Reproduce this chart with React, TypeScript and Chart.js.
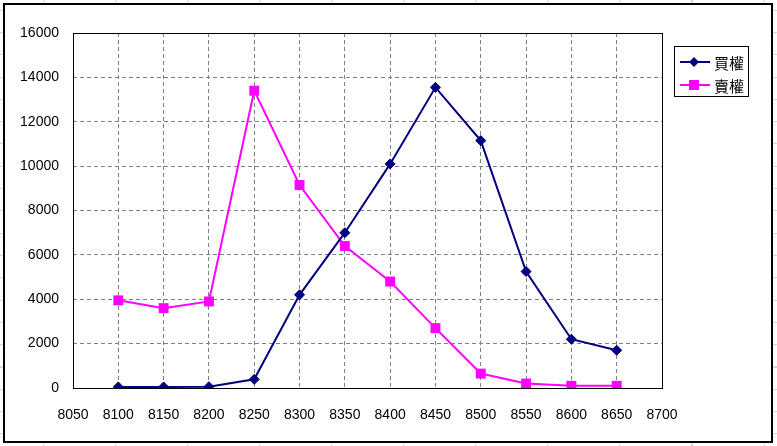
import React, { useEffect, useRef } from "react";
import { Chart, registerables } from "chart.js";

Chart.register(...registerables);

const strikes = [8100, 8150, 8200, 8250, 8300, 8350, 8400, 8450, 8500, 8550, 8600, 8650];
const callLabel = "買權";
const putLabel = "賣權";
const callValues = [50, 50, 60, 390, 4200, 7000, 10100, 13550, 11150, 5250, 2200, 1700];
const putValues = [3950, 3600, 3900, 13400, 9150, 6400, 4800, 2700, 650, 200, 100, 100];
const xMin = 8050;
const xMax = 8700;
const xStep = 50;
const yMin = 0;
const yMax = 16000;
const yStep = 2000;

const frameAndLegend = {
  id: "frameAndLegend",
  beforeDatasetsDraw(chart: any) {
    const { ctx, chartArea } = chart;
    ctx.save();
    ctx.strokeStyle = "#000";
    ctx.lineWidth = 1;
    ctx.strokeRect(
      Math.round(chartArea.left) + 0.5,
      Math.round(chartArea.top) + 0.5,
      Math.round(chartArea.right - chartArea.left),
      Math.round(chartArea.bottom - chartArea.top)
    );
    ctx.restore();
  },
  afterDraw(chart: any) {
    const { ctx } = chart;
    const bx = 674.5, by = 46.5, bw = 74, bh = 50;
    ctx.save();
    ctx.fillStyle = "#fff";
    ctx.fillRect(bx, by, bw, bh);
    ctx.strokeStyle = "#000";
    ctx.lineWidth = 1;
    ctx.strokeRect(bx, by, bw, bh);
    const rows = [62, 85];
    chart.data.datasets.forEach((ds: any, i: number) => {
      const y = rows[i];
      ctx.strokeStyle = ds.borderColor;
      ctx.lineWidth = 2;
      ctx.beginPath();
      ctx.moveTo(680, y);
      ctx.lineTo(710, y);
      ctx.stroke();
      ctx.fillStyle = ds.pointBackgroundColor;
      if (ds.pointStyle === "rectRot") {
        ctx.beginPath();
        ctx.moveTo(694, y - 5);
        ctx.lineTo(699, y);
        ctx.lineTo(694, y + 5);
        ctx.lineTo(689, y);
        ctx.closePath();
        ctx.fill();
      } else {
        ctx.fillRect(689, y - 5, 10, 10);
      }
      ctx.fillStyle = "#000";
      ctx.font = '15px "Noto Sans CJK TC", "Noto Sans CJK SC", sans-serif';
      ctx.textBaseline = "middle";
      ctx.textAlign = "left";
      ctx.fillText(ds.label, 714, y + 1);
    });
    ctx.restore();
  },
};

export default function App() {
  const ref = useRef<HTMLCanvasElement | null>(null);
  useEffect(() => {
    if (!ref.current) return;
    const tickFont = { family: '"Liberation Sans", Arial, sans-serif', size: 14 };
    const chart = new Chart(ref.current, {
      type: "line",
      data: {
        datasets: [
          {
            label: callLabel,
            data: strikes.map((s, i) => ({ x: s, y: callValues[i] })),
            borderColor: "#000080",
            backgroundColor: "#000080",
            pointBackgroundColor: "#000080",
            pointBorderColor: "#000080",
            pointStyle: "rectRot",
            pointRadius: 5,
            pointBorderWidth: 1,
            borderWidth: 2,
            tension: 0,
          },
          {
            label: putLabel,
            data: strikes.map((s, i) => ({ x: s, y: putValues[i] })),
            borderColor: "#FF00FF",
            backgroundColor: "#FF00FF",
            pointBackgroundColor: "#FF00FF",
            pointBorderColor: "#FF00FF",
            pointStyle: "rect",
            pointRadius: 7,
            pointBorderWidth: 0,
            borderWidth: 2,
            tension: 0,
          },
        ],
      },
      options: {
        animation: false,
        responsive: false,
        maintainAspectRatio: false,
        layout: { padding: { top: 33, right: 115, left: 0, bottom: 0 } },
        plugins: {
          legend: { display: false },
          tooltip: { enabled: false },
        },
        scales: {
          x: {
            type: "linear",
            min: xMin,
            max: xMax,
            ticks: {
              stepSize: xStep,
              color: "#000",
              font: tickFont,
              padding: 19,
              maxRotation: 0,
              autoSkip: false,
              callback: (v: any) => String(v),
            },
            grid: { color: "#808080", lineWidth: 1, drawTicks: false },
            border: { display: false, dash: [4, 3] },
            afterFit: (s: any) => {
              s.height = 58;
            },
          },
          y: {
            type: "linear",
            min: yMin,
            max: yMax,
            ticks: {
              stepSize: yStep,
              color: "#000",
              font: tickFont,
              padding: 14,
              callback: (v: any) => String(v),
            },
            grid: { color: "#808080", lineWidth: 1, drawTicks: false },
            border: { display: false, dash: [4, 3] },
            afterFit: (s: any) => {
              s.width = 73;
            },
          },
        },
      },
      plugins: [frameAndLegend],
    });
    return () => chart.destroy();
  }, []);

  const sheetBg =
    "repeating-linear-gradient(to right, transparent 0px, transparent 42.6px, #d8d8d8 42.6px, #d8d8d8 43.6px, transparent 43.6px, transparent 72.1px)," +
    "repeating-linear-gradient(to bottom, transparent 0px, transparent 9.7px, #d8d8d8 9.7px, #d8d8d8 10.7px, transparent 10.7px, transparent 22.3px)";

  return (
    <div
      style={{
        position: "fixed",
        left: 0,
        top: 0,
        width: 777,
        height: 446,
        background: "#fff",
        backgroundImage: sheetBg,
        overflow: "hidden",
      }}
    >
      <div
        style={{
          position: "absolute",
          left: 3,
          top: 3,
          width: 770,
          height: 440,
          border: "2px solid #000",
          boxSizing: "border-box",
          background: "#fff",
        }}
      />
      <canvas
        ref={ref}
        width={777}
        height={446}
        style={{ position: "absolute", left: 0, top: 0, width: 777, height: 446 }}
      />
    </div>
  );
}
